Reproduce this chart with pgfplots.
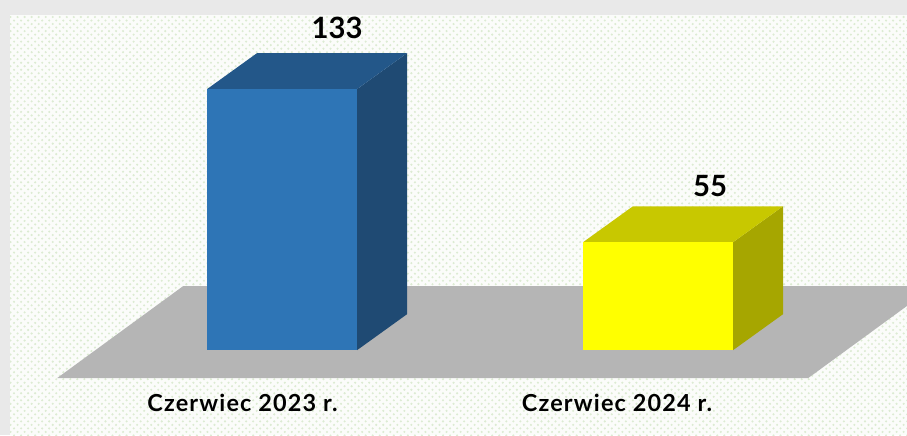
\documentclass[border=0pt]{standalone}
\usepackage{pgfplots}
\pgfplotsset{compat=1.18}
\usepackage{fontspec}
\setmainfont{Lato}
\newfontfamily\labfont[LetterSpace=5]{Lato}
\usetikzlibrary{patterns}
\definecolor{frontA}{HTML}{2E75B6}
\definecolor{topA}{HTML}{235789}
\definecolor{sideA}{HTML}{1F4A73}
\definecolor{frontB}{HTML}{FFFF00}
\definecolor{topB}{HTML}{C8C800}
\definecolor{sideB}{HTML}{A6A600}
\definecolor{floorc}{HTML}{B5B5B5}
\definecolor{frame}{HTML}{E9E9E9}
\definecolor{bg}{HTML}{FBFCFA}
\definecolor{dotc}{HTML}{DCEBD2}
\begin{document}
\begin{tikzpicture}
\begin{axis}[
  x=0.4266pt, y=0.8374pt,
  xmin=0, xmax=907, ymin=-43.3, ymax=178.3,
  set layers, axis on top,
  axis line style={draw=none},
  major tick length=0pt,
  ytick=\empty,
  xtick={242.5,617},
  xticklabels={Czerwiec 2023 r., Czerwiec 2024 r.},
  xticklabel style={anchor=base, yshift=10pt, font=\labfont\bfseries\fontsize{10}{11}\selectfont},
  axis background/.style={fill=frame},
  /pgf/number format/assume math mode=true,
  clip=true,
]
% inner background
\fill[bg] (axis cs:10,170.66) rectangle (axis cs:907,-43.3);
\fill[pattern=crosshatch dots, pattern color=dotc] (axis cs:10,170.66) rectangle (axis cs:907,-43.3);
% floor
\addplot[fill=floorc, draw=none] coordinates {(57,-14.26) (808,-14.26) (934,32.60) (183,32.60)} --cycle;
% bar 1 (133)
\addplot[fill=sideA, draw=none] coordinates {(357,0) (407,18.34) (407,151.34) (357,133)} --cycle;
\addplot[fill=topA, draw=none] coordinates {(207,133) (357,133) (407,151.34) (257,151.34)} --cycle;
\addplot[ybar, bar width=150, bar shift=0pt, fill=frontA, draw=none,
  nodes near coords, nodes near coords style={anchor=center, xshift=23.5pt, yshift=26.2pt, font=\bfseries\fontsize{12.5}{13}\selectfont, text=black}]
  coordinates {(282,133)};
% bar 2 (55)
\addplot[fill=sideB, draw=none] coordinates {(733,0) (783,18.34) (783,73.34) (733,55)} --cycle;
\addplot[fill=topB, draw=none] coordinates {(583,55) (733,55) (783,73.34) (633,73.34)} --cycle;
\addplot[ybar, bar width=150, bar shift=0pt, fill=frontB, draw=none,
  nodes near coords, nodes near coords style={anchor=center, xshift=22.2pt, yshift=23.9pt, font=\bfseries\fontsize{12.5}{13}\selectfont, text=black}]
  coordinates {(658,55)};
\end{axis}
\end{tikzpicture}
\end{document}
